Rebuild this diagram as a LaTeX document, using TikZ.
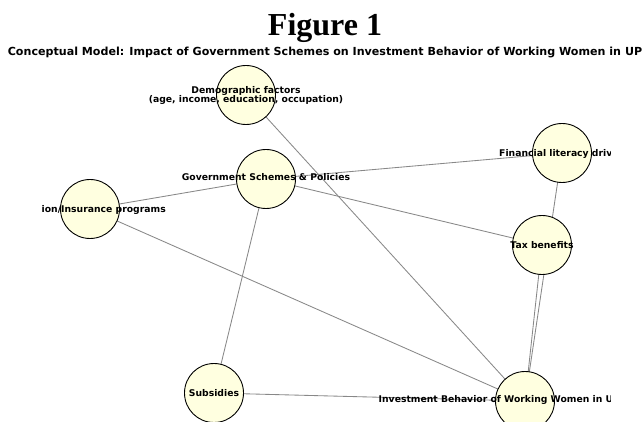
\documentclass[tikz,border=0pt]{standalone}
\usepackage{fontspec}
\setmainfont{Liberation Serif}
\newfontfamily\djv{DejaVu Sans}
\definecolor{lyellow}{HTML}{FFFFE0}
\definecolor{edgegray}{HTML}{888888}
\pgfdeclarelayer{bg}
\pgfsetlayers{bg,main}
\begin{document}
\begin{tikzpicture}[x=1pt,y=-1pt,
  circ/.style={circle,draw=black,line width=0.9pt,fill=lyellow,minimum size=59pt,inner sep=0pt},
  lbl/.style={font=\djv\bfseries\fontsize{9.25}{9.5}\selectfont,align=center,inner sep=0pt},
  edge/.style={draw=edgegray,line width=0.85pt}]
\useasboundingbox (0,0) rectangle (643,422);
% titles
\node[font=\bfseries\fontsize{32}{32}\selectfont,anchor=base,inner sep=0pt] (fig) at (325,36) {Figure 1};
\node[font=\djv\bfseries\fontsize{11.1}{12}\selectfont,anchor=base,inner sep=0pt] (sub) at (325,56) {Conceptual Model: Impact of Government Schemes on Investment Behavior of Working Women in UP};
% nodes
\node[circ] (dem) at (246,95) {};
\node[circ] (gov) at (266,179) {};
\node[circ] (pen) at (90,209) {};
\node[circ] (fin) at (562,153) {};
\node[circ] (tax) at (542,245) {};
\node[circ] (sub2) at (214,393) {};
\node[circ] (inv) at (525,401) {};
% edges (behind the circles)
\begin{pgfonlayer}{bg}
\fill[white] (0,0) rectangle (643,422);
\draw[edge] (dem.center) -- (inv.center);
\draw[edge] (gov.center) -- (fin.center);
\draw[edge] (gov.center) -- (pen.center);
\draw[edge] (gov.center) -- (tax.center);
\draw[edge] (gov.center) -- (sub2.center);
\draw[edge] (pen.center) -- (inv.center);
\draw[edge] (fin.center) -- (inv.center);
\draw[edge] (tax.center) -- (inv.center);
\draw[edge] (sub2.center) -- (inv.center);
\end{pgfonlayer}
% labels
\begin{scope}
\clip (40,0) rectangle (610.5,422);
\node[lbl] (demL) at (246,95.5) {Demographic factors\\(age, income, education, occupation)};
\node[lbl,anchor=base] (govL) at (266,180.9) {Government Schemes \& Policies};
\node[lbl,anchor=base west] (penL) at (41.5,212.6) {ion/Insurance programs};
\node[lbl,anchor=base west] (finL) at (499,156.3) {Financial literacy driv};
\node[lbl,anchor=base] (taxL) at (542,248.6) {Tax benefits};
\node[lbl,anchor=base] (subL) at (214,396.9) {Subsidies};
\node[lbl,anchor=base west] (invL) at (378.5,402.9) {Investment Behavior of Working Women in U};
\end{scope}
\end{tikzpicture}
\end{document}
